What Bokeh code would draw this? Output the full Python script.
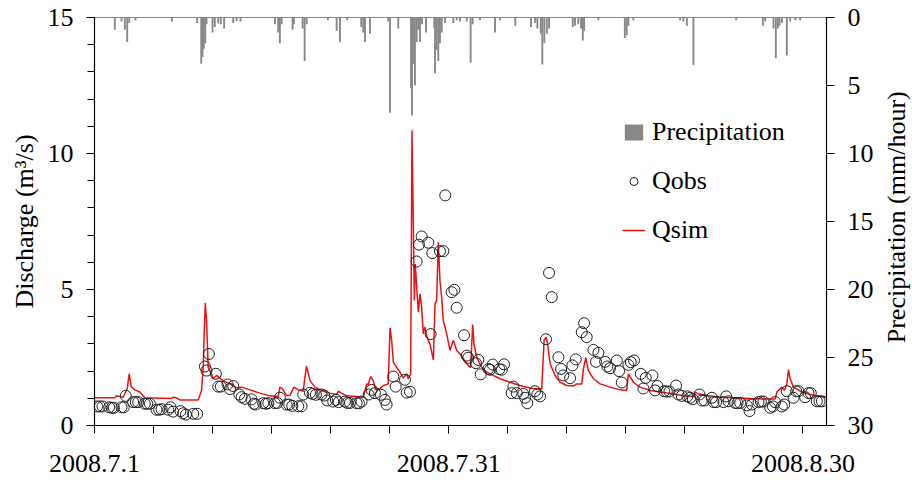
import math

from bokeh.plotting import figure
from bokeh.layouts import row
from bokeh.models import Range1d, LinearAxis, FixedTicker, Legend, LegendItem
from bokeh.core.properties import value
from bokeh.embed import file_html
from bokeh.resources import INLINE

# Hourly precipitation (days since 2008-07-01 00:00, mm/hour); only wet hours listed
precip_day = [1.72, 2.29, 2.57, 2.77, 2.94, 3.47, 6.55, 8.70, 9.04, 9.15, 9.26, 9.38, 9.49,
              10.00, 10.19, 10.48, 10.70, 10.98, 11.75, 12.03, 12.37, 15.28, 15.56, 15.70,
              15.85, 16.78, 16.89, 17.63, 17.80, 17.97, 19.77, 20.51, 20.79, 21.41, 22.59,
              22.76, 22.91, 23.33, 24.88, 25.03, 25.73, 26.81, 26.89, 27.00, 27.14, 27.29,
              27.42, 27.57, 27.74, 28.08, 28.78, 28.84, 28.98, 29.12, 29.26, 29.41, 29.69,
              30.39, 30.68, 30.96, 31.53, 31.86, 32.03, 32.65, 33.92, 34.35, 35.64, 36.97,
              37.31, 37.51, 37.80, 37.93, 38.10, 38.31, 38.50, 40.51, 40.70, 40.98, 41.21,
              41.36, 41.47, 42.68, 44.92, 45.08, 45.22, 45.64, 49.60, 49.88, 50.17, 50.73,
              54.35, 56.61, 56.81, 57.51, 57.71, 57.88, 58.02, 58.22, 58.64, 58.92, 59.35,
              59.77]
precip_mm = [0.9, 0.3, 0.9, 1.8, 0.4, 0.2, 0.3, 0.4, 3.4, 2.9, 2.3, 1.9, 0.5,
             1.1, 0.7, 0.45, 0.5, 0.8, 0.4, 0.25, 0.3, 0.5, 1.1, 1.9,
             0.5, 0.9, 0.5, 0.8, 3.2, 0.5, 0.2, 1.0, 1.8, 0.2, 0.7,
             1.1, 1.8, 1.2, 0.3, 7.0, 0.8, 5.2, 7.2, 3.4, 5.0, 1.8,
             0.9, 1.8, 0.5, 1.1, 0.8, 4.1, 2.4, 3.2, 1.9, 1.1, 0.4,
             0.4, 0.2, 0.3, 0.3, 3.3, 0.5, 0.2, 1.1, 0.2, 0.6, 0.7,
             0.4, 0.8, 1.2, 3.45, 1.9, 1.2, 0.8, 0.7, 0.6, 0.5, 0.8,
             1.7, 1.0, 0.2, 1.5, 1.3, 0.6, 0.2, 0.2, 0.3, 0.6, 3.5,
             0.2, 0.6, 0.3, 0.8, 3.0, 0.8, 0.6, 0.4, 2.8, 0.3, 0.2,
             0.2]

# Simulated discharge (m3/s)
qsim_day = [0.00, 1.72, 1.86, 2.43, 2.77, 2.94, 3.13, 3.42, 3.84, 4.26, 6.52, 6.66, 6.95, 7.23,
            8.78, 9.06, 9.21, 9.29, 9.38, 9.49, 9.63, 9.91, 10.05, 10.34, 10.90, 11.47, 12.03,
            12.46, 13.17, 14.01, 14.86, 15.56, 15.70, 15.93, 16.27, 16.55, 16.89, 17.26, 17.68,
            17.82, 17.96, 18.25, 18.67, 19.38, 19.94, 20.51, 20.65, 20.93, 21.35, 22.20, 22.77,
            23.05, 23.19, 23.39, 23.61, 23.81, 24.18, 24.46, 24.88, 25.03, 25.17, 25.31, 25.59,
            25.87, 26.15, 26.44, 26.58, 26.78, 26.89, 27.00, 27.09, 27.17, 27.29, 27.43, 27.57,
            27.71, 27.85, 27.99, 28.13, 28.27, 28.41, 28.70, 28.84, 28.98, 29.12, 29.26, 29.40,
            29.54, 29.83, 30.11, 30.39, 30.68, 30.96, 31.52, 31.86, 32.03, 32.14, 32.37, 32.80,
            33.22, 33.78, 34.35, 35.19, 36.04, 37.17, 37.88, 38.08, 38.25, 38.36, 38.59, 39.01,
            39.43, 40.00, 40.56, 40.84, 41.27, 41.41, 41.61, 41.83, 42.26, 42.82, 43.67, 44.52,
            45.08, 45.22, 45.36, 45.65, 46.21, 47.06, 47.91, 49.04, 49.88, 50.74, 50.88, 51.16,
            51.86, 53.00, 54.12, 55.54, 56.95, 57.65, 57.80, 58.22, 58.42, 58.64, 58.78, 58.92,
            59.21, 59.77, 60.62, 61.47, 62.00]
qsim_val = [1.02, 1.02, 1.09, 1.04, 1.35, 1.90, 1.41, 1.31, 1.23, 1.02, 0.99, 1.04, 1.02, 0.94,
            0.94, 1.29, 2.14, 3.37, 4.50, 3.86, 2.14, 1.90, 1.72, 1.84, 1.65, 1.53, 1.38,
            1.41, 1.31, 1.19, 1.09, 1.07, 1.41, 1.35, 1.10, 1.10, 1.41, 1.31, 1.26,
            1.78, 2.18, 1.65, 1.41, 1.26, 1.19, 1.14, 1.26, 1.19, 1.09, 1.07, 1.04,
            1.53, 1.51, 1.80, 1.65, 1.31, 1.35, 1.47, 1.53, 3.59, 3.13, 2.33, 2.14,
            1.96, 1.75, 1.90, 1.72, 1.90, 10.85, 7.54, 4.60, 5.94, 5.09, 4.17, 4.84,
            4.35, 3.37, 3.62, 3.31, 3.13, 3.00, 2.41, 4.47, 4.60, 6.74, 5.33, 4.72,
            3.86, 3.37, 2.76, 3.13, 2.76, 2.63, 2.27, 2.12, 3.71, 3.00, 2.51, 2.14,
            1.96, 1.84, 1.72, 1.59, 1.47, 1.35, 1.35, 3.13, 3.25, 3.06, 2.27, 1.84,
            1.59, 1.47, 1.45, 1.53, 1.53, 2.08, 2.49, 2.02, 1.72, 1.53, 1.41, 1.31,
            1.29, 1.90, 1.80, 1.59, 1.41, 1.29, 1.23, 1.16, 1.09, 1.07, 1.23, 1.16,
            1.10, 1.04, 1.02, 0.99, 0.97, 0.97, 1.23, 1.41, 1.29, 1.53, 2.05, 1.72,
            1.41, 1.26, 1.14, 1.07, 1.04]

# Observed discharge (m3/s)
qobs_day = [0.22, 0.45, 0.68, 1.24, 1.47, 1.64, 2.29, 2.48, 2.65, 3.27, 3.50, 3.70, 4.26, 4.46,
            4.69, 5.25, 5.48, 5.68, 6.24, 6.44, 6.66, 7.28, 7.51, 7.74, 8.36, 8.70, 9.35, 9.49,
            9.69, 10.28, 10.48, 10.70, 11.27, 11.47, 11.75, 12.26, 12.46, 12.74, 13.30, 13.50,
            13.64, 14.29, 14.52, 14.72, 15.28, 15.48, 15.70, 16.27, 16.49, 16.75, 17.26, 17.54,
            17.68, 18.25, 18.47, 18.75, 19.23, 19.46, 19.71, 20.22, 20.45, 20.68, 21.21, 21.41,
            21.64, 22.20, 22.40, 22.62, 23.22, 23.47, 23.75, 24.26, 24.60, 24.74, 25.31, 25.51,
            26.30, 26.44, 26.72, 27.28, 27.48, 27.71, 28.27, 28.47, 28.61, 29.26, 29.55, 29.71,
            30.25, 30.48, 30.68, 31.30, 31.53, 31.66, 32.31, 32.51, 32.71, 33.36, 33.50, 33.73,
            34.29, 34.49, 34.69, 35.33, 35.48, 35.76, 36.32, 36.47, 36.66, 37.31, 37.51, 37.74,
            38.24, 38.50, 38.73, 39.29, 39.52, 39.71, 40.28, 40.48, 40.76, 41.27, 41.47, 41.69,
            42.26, 42.48, 42.68, 43.25, 43.44, 43.67, 44.24, 44.43, 44.66, 45.22, 45.42, 45.70,
            46.27, 46.49, 46.69, 47.26, 47.48, 47.68, 48.25, 48.47, 48.70, 49.26, 49.46, 49.74,
            50.22, 50.45, 50.68, 51.24, 51.44, 51.67, 52.29, 52.43, 52.65, 53.27, 53.50, 53.70,
            54.26, 54.46, 54.69, 55.25, 55.48, 55.68, 56.24, 56.44, 56.66, 57.23, 57.46, 57.65,
            58.22, 58.42, 58.64, 59.21, 59.43, 59.63, 60.19, 60.47, 60.67, 61.18, 61.41, 61.61]
qobs_val = [0.70, 0.70, 0.70, 0.67, 0.65, 0.65, 0.67, 0.67, 1.09, 0.86, 0.86, 0.86, 0.80, 0.80,
            0.80, 0.58, 0.58, 0.60, 0.58, 0.67, 0.51, 0.53, 0.45, 0.40, 0.43, 0.43, 2.17, 2.02,
            2.63, 1.90, 1.43, 1.43, 1.51, 1.34, 1.45, 1.14, 1.04, 0.98, 0.96, 0.80,
            0.77, 0.82, 0.80, 0.82, 0.82, 0.83, 1.02, 0.77, 0.77, 0.72, 0.71, 0.71,
            1.14, 1.20, 1.16, 1.13, 1.14, 1.10, 0.92, 0.88, 0.94, 0.86, 0.88, 0.83,
            0.83, 0.82, 0.82, 0.88, 1.14, 1.31, 1.19, 1.13, 0.94, 0.77, 1.80, 1.43,
            1.68, 1.21, 1.24, 6.03, 6.65, 6.95, 6.72, 3.36, 6.34, 6.41, 6.41, 8.46,
            4.90, 4.99, 4.33, 3.32, 2.57, 2.49, 2.29, 2.41, 1.88, 2.08, 2.05, 2.24,
            2.07, 2.05, 2.25, 1.19, 1.43, 1.19, 1.16, 1.02, 0.82, 1.26, 1.14, 1.07,
            3.17, 5.61, 4.72, 2.51, 2.08, 1.84, 1.74, 2.21, 2.43, 3.43, 3.76, 3.25,
            2.78, 2.34, 2.67, 2.34, 2.17, 2.11, 2.39, 2.00, 1.58, 2.23, 2.33, 2.39,
            1.90, 1.36, 1.75, 1.84, 1.29, 1.45, 1.26, 1.25, 1.25, 1.47, 1.14, 1.09,
            1.07, 1.02, 0.97, 1.14, 0.92, 0.92, 1.02, 0.86, 0.86, 0.86, 1.07, 0.89,
            0.83, 0.82, 0.83, 0.74, 0.53, 0.77, 0.86, 0.88, 0.88, 0.65, 0.70, 0.86,
            0.70, 0.77, 1.26, 1.02, 1.26, 1.26, 1.04, 1.19, 1.19, 0.89, 0.89, 0.89]

# Date axis: a tick every 5 days, labelled every 30 days
date_ticks = [0, 5, 10, 15, 20, 25, 30, 35, 40, 45, 50, 55, 60]
date_labels = {0: "2008.7.1", 30: "2008.7.31", 60: "2008.8.30"}
q_ticks = [0, 5, 10, 15]
p_ticks = [0, 5, 10, 15, 20, 25, 30]
precip_title = "Precipitation (mm/hour)"

FONT = "Liberation Serif"
FS = "26px"

p = figure(width=880, height=480, output_backend="svg", toolbar_location=None,
           x_range=Range1d(0, 62), y_range=Range1d(0, 15),
           min_border_left=94, min_border_right=54, min_border_top=17,
           min_border_bottom=55)
p.extra_y_ranges = {"precip": Range1d(30, 0)}
p.background_fill_color = "white"
p.border_fill_color = "white"
p.outline_line_color = "#888888"
p.xgrid.visible = False
p.ygrid.visible = False


def style_axis(ax):
    ax.axis_line_color = "black"
    ax.axis_line_width = 1.2
    ax.major_tick_line_color = "black"
    ax.minor_tick_line_color = "black"
    ax.major_tick_in = 0
    ax.minor_tick_in = 0
    ax.major_tick_out = 8
    ax.major_label_text_font = FONT
    ax.major_label_text_font_size = FS
    ax.major_label_text_color = "black"
    ax.axis_label_text_font = FONT
    ax.axis_label_text_font_size = FS
    ax.axis_label_text_font_style = "normal"
    ax.axis_label_text_color = "black"


# bottom date axis
xa = p.xaxis[0]
style_axis(xa)
xa.ticker = FixedTicker(ticks=date_ticks, minor_ticks=[])
xa.major_label_overrides = {t: date_labels.get(t, "") for t in date_ticks}
xa.major_label_standoff = 21

# left discharge axis
ya = p.yaxis[0]
style_axis(ya)
ya.ticker = FixedTicker(ticks=q_ticks, minor_ticks=list(range(0, 16)))
ya.minor_tick_out = 7
ya.major_label_standoff = 13
ya.axis_label = "Discharge (m³/s)"
ya.axis_label_standoff = 6

# right precipitation axis (its title is drawn in the side strip)
ra = LinearAxis(y_range_name="precip")
style_axis(ra)
ra.ticker = FixedTicker(ticks=p_ticks, minor_ticks=[])
ra.major_label_standoff = 13
p.add_layout(ra, "right")

# precipitation bars hanging from the top
bars = p.vbar(x=precip_day, width=0.16, top=0, bottom=precip_mm,
              y_range_name="precip", fill_color="#888888", line_color=None)

sim = p.line(qsim_day, qsim_val, line_color="#ee1111", line_width=1.5)

obs = p.scatter(qobs_day, qobs_val, marker="circle", size=11, fill_color=None,
                line_color="#222222", line_width=1)

legend = Legend(items=[LegendItem(label="Precipitation", renderers=[bars]),
                       LegendItem(label="Qobs", renderers=[obs]),
                       LegendItem(label="Qsim", renderers=[sim])],
                location=(528, 180), padding=0, margin=0, spacing=19,
                glyph_width=23, glyph_height=20, label_standoff=7, label_height=30,
                label_text_font=FONT, label_text_font_size=FS,
                label_text_color="black", border_line_color=None,
                background_fill_alpha=0)
p.add_layout(legend)

# narrow strip on the right holding the precipitation axis title, reading upward
side = figure(width=32, height=480, output_backend="svg", toolbar_location=None,
              x_range=Range1d(0, 32), y_range=Range1d(0, 480),
              min_border=0, outline_line_color=None)
side.axis.visible = False
side.grid.visible = False
side.text(x=[16], y=[245], text=[precip_title], angle=math.pi / 2,
          text_align="center", text_baseline="middle",
          text_font=value(FONT), text_font_size=FS, text_color="black")

layout = row(p, side, spacing=0)

open("out.html", "w").write(file_html(layout, INLINE))
